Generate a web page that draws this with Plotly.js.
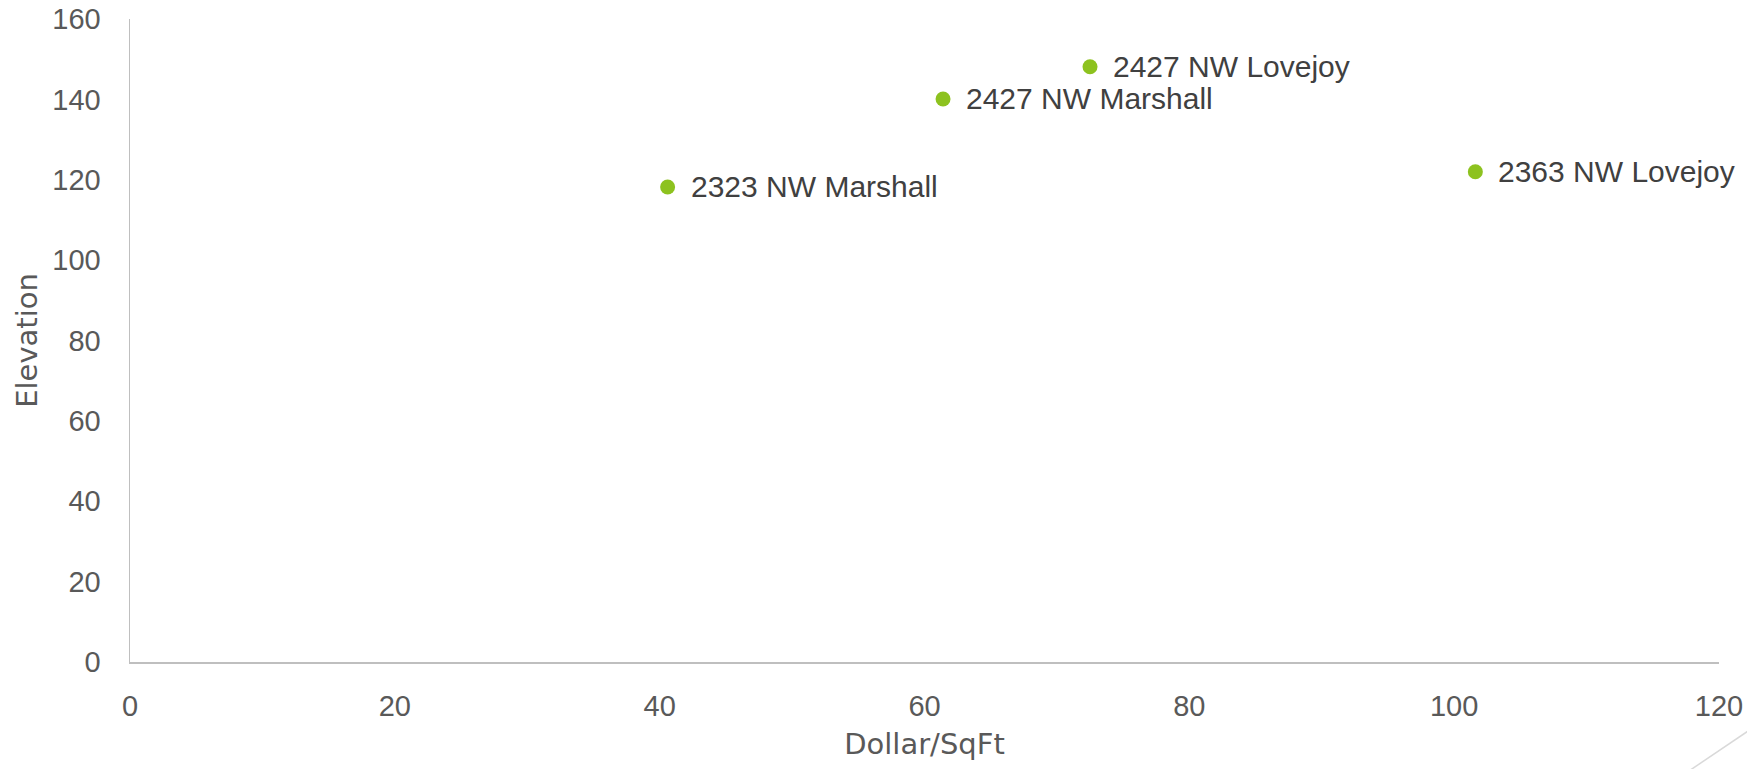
<!DOCTYPE html>
<html>
<head>
<meta charset="utf-8">
<script src="https://cdn.plot.ly/plotly-3.0.1.min.js"></script>
<style>
html,body{margin:0;padding:0;background:#fff;}
#chart{width:1747px;height:769px;}
</style>
</head>
<body>
<div id="chart"></div>
<script>
// Data
var names = ["2323 NW Marshall", "2427 NW Marshall", "2427 NW Lovejoy", "2363 NW Lovejoy"];
var dollarPerSqFt = [40.6, 61.4, 72.5, 101.6];
var elevation = [118.2, 140.1, 148.1, 122.0];
var xTicks = [0, 20, 40, 60, 80, 100, 120];
var yTicks = [0, 20, 40, 60, 80, 100, 120, 140, 160];

var trace = {
  x: dollarPerSqFt,
  y: elevation,
  text: names,
  type: 'scatter',
  mode: 'markers',
  marker: {color: '#8DC21F', size: 15},
  hoverinfo: 'text+x+y',
  cliponaxis: false
};

var annotations = names.map(function(n, i){
  return {
    x: dollarPerSqFt[i], y: elevation[i], xref: 'x', yref: 'y',
    text: n, showarrow: false, xanchor: 'left', yanchor: 'middle',
    xshift: 21, yshift: 0,
    font: {family: 'Liberation Sans, Arial, sans-serif', size: 30, color: '#404040'}
  };
});

var layout = {
  width: 1747, height: 769,
  margin: {l: 130, r: 28, t: 19, b: 107},
  paper_bgcolor: '#ffffff', plot_bgcolor: '#ffffff',
  showlegend: false,
  font: {family: 'Liberation Sans, Arial, sans-serif', color: '#595959'},
  xaxis: {
    range: [0, 120], tickvals: xTicks, ticktext: xTicks.map(String),
    showgrid: false, zeroline: false, showline: true, linecolor: '#BFBFBF', linewidth: 1.5,
    ticks: '', ticklabelstandoff: 18,
    tickfont: {size: 29, color: '#595959'},
    title: {text: 'Dollar/SqFt', font: {family: 'DejaVu Sans, sans-serif', size: 29, color: '#595959'}, standoff: 12},
    automargin: false, fixedrange: true
  },
  yaxis: {
    range: [0, 160], tickvals: yTicks, ticktext: yTicks.map(String),
    showgrid: false, zeroline: false, showline: true, linecolor: '#BFBFBF', linewidth: 1.5,
    ticks: '', ticklabelstandoff: 22,
    tickfont: {size: 29, color: '#595959'},
    title: {text: 'Elevation', font: {family: 'DejaVu Sans, sans-serif', size: 29, color: '#595959'}, standoff: 6},
    automargin: false, fixedrange: true
  },
  annotations: annotations,
  shapes: [{
    type: 'line', xref: 'paper', yref: 'paper',
    x0: (1680 - 130) / 1589, y0: (662 - 777) / 643,
    x1: (1760 - 130) / 1589, y1: (662 - 723) / 643,
    line: {color: '#D9D9D9', width: 1.5}
  }]
};

Plotly.newPlot('chart', [trace], layout, {displayModeBar: false, staticPlot: true});
</script>
</body>
</html>
